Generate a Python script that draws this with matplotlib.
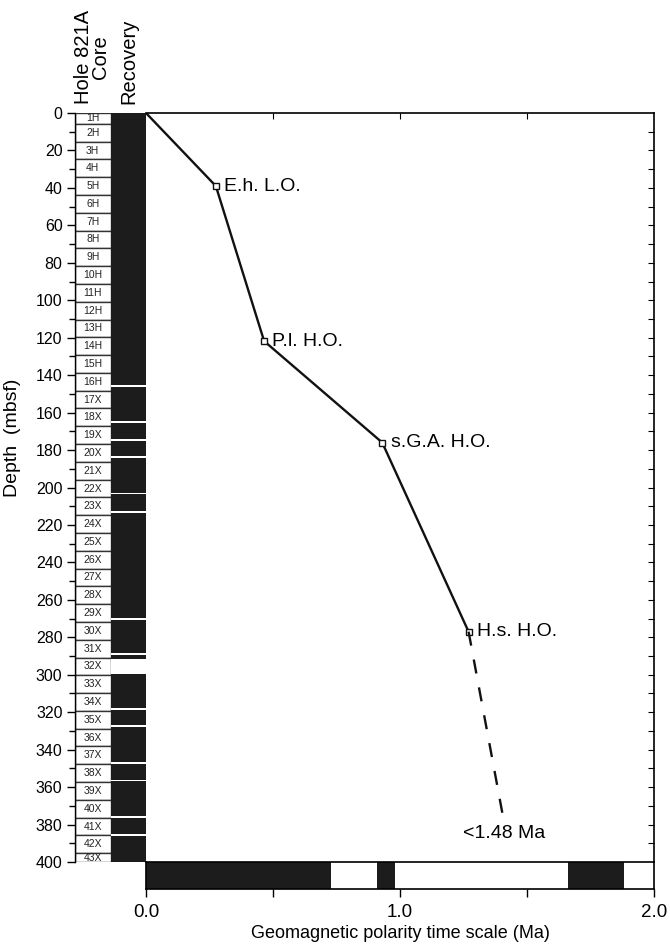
import matplotlib
matplotlib.use("Agg")
import matplotlib.pyplot as plt
from matplotlib.patches import Rectangle

plt.rcParams['font.family'] = ['Liberation Sans', 'DejaVu Sans']

# core tops (mbsf), Hole 821A
core_top = [0.0, 5.8, 15.3, 24.8, 34.3, 43.8, 53.3, 62.8, 72.3, 81.8, 91.3,
            100.8, 110.3, 119.8, 129.3, 138.8, 148.3, 157.8, 167.3, 176.8,
            186.3, 195.8, 205.3, 214.8, 224.3, 233.8, 243.3, 252.8, 262.3,
            271.8, 281.3, 290.8, 300.3, 309.8, 319.3, 328.8, 338.3, 347.8,
            357.3, 366.8, 376.3, 385.8, 395.3]
core_label = [f'{i}H' for i in range(1, 17)] + [f'{i}X' for i in range(17, 44)]

# gaps in recovery (top, bottom) mbsf
gaps = [(145.0, 146.3), (164.6, 165.5), (174.2, 175.0), (183.2, 184.4),
        (202.7, 203.5), (212.6, 213.4), (269.6, 270.8), (288.6, 289.6),
        (291.6, 299.4), (318.0, 318.6), (326.6, 327.8), (346.6, 347.4),
        (356.2, 357.0), (375.2, 376.4), (385.2, 385.9)]

# biostratigraphic datums
datum_age = [0.0, 0.275, 0.465, 0.93, 1.27]
datum_depth = [0.0, 39.0, 121.8, 176.0, 277.0]
datum_name = ['', 'E.h. L.O.', 'P.l. H.O.', 's.G.A. H.O.', 'H.s. H.O.']
dash_age = [1.27, 1.41]
dash_depth = [277.0, 379.0]

# normal polarity chrons (Ma)
normal = [(0.0, 0.73), (0.91, 0.98), (1.66, 1.88)]

W, H = 670, 949
fig = plt.figure(figsize=(W / 100, H / 100), dpi=100)

def box(x0, x1, y0, y1):
    return [x0 / W, 1 - y1 / H, (x1 - x0) / W, (y1 - y0) / H]

ax_core = fig.add_axes(box(75, 146, 113, 862))
ax = fig.add_axes(box(146, 654, 113, 862))
ax_pol = fig.add_axes(box(146, 654, 862, 889))

# core column + recovery
ax_core.set_xlim(0, 2)
ax_core.set_ylim(400, 0)
bottoms = core_top[1:] + [400.0]
for top, bot, lab in zip(core_top, bottoms, core_label):
    ax_core.add_patch(Rectangle((0, top), 1, bot - top, facecolor='white',
                                edgecolor='#333333', linewidth=1.0))
    ax_core.text(0.5, (top + min(bot, 400)) / 2, lab, ha='center', va='center',
                 fontsize=7.5, color='#222222')
ax_core.add_patch(Rectangle((1, 0), 1, 400, facecolor='#1c1c1c', edgecolor='none'))
for g0, g1 in gaps:
    ax_core.add_patch(Rectangle((1, g0), 1, g1 - g0, facecolor='white',
                                edgecolor='none'))
for s in ['top', 'right', 'bottom']:
    ax_core.spines[s].set_visible(False)
ax_core.spines['left'].set_linewidth(1.0)
ax_core.set_xticks([])
ax_core.set_yticks(range(0, 401, 20))
ax_core.set_yticks(range(10, 400, 20), minor=True)
ax_core.tick_params(axis='y', which='major', length=6, width=1, labelsize=11.5, pad=3)
ax_core.tick_params(axis='y', which='minor', length=4, width=1)
ax_core.set_ylabel('Depth  (mbsf)', fontsize=14)
ax_core.yaxis.set_label_coords(-0.76, 0.567)

ax_core.text(0.24, 1.012, 'Hole 821A\nCore', transform=ax_core.transAxes,
             rotation=90, ha='center', va='bottom', fontsize=14.5,
             linespacing=0.85, multialignment='center')
ax_core.text(0.76, 1.012, 'Recovery', transform=ax_core.transAxes,
             rotation=90, ha='center', va='bottom', fontsize=14.5)

# age-depth plot
ax.set_xlim(0, 2)
ax.set_ylim(400, 0)
ax.plot(datum_age, datum_depth, color='#111111', linewidth=1.7)
ax.plot(datum_age[1:], datum_depth[1:], linestyle='none', marker='s',
        markersize=4.5, markerfacecolor='white', markeredgecolor='#111111',
        markeredgewidth=1.0)
ax.plot(dash_age, dash_depth, color='#111111', linewidth=1.7,
        linestyle=(0, (6, 6)))
for a, d, n in zip(datum_age[1:], datum_depth[1:], datum_name[1:]):
    ax.annotate(n, (a, d), xytext=(6, 0), textcoords='offset points',
                ha='left', va='center', fontsize=14)
ax.annotate('<1.48 Ma', (dash_age[1], dash_depth[1]), xytext=(0, -2),
            textcoords='offset points', ha='center', va='top', fontsize=14)
ax.set_xticks([0.5, 1.0, 1.5])
ax.set_yticks(range(10, 400, 10))
ax.tick_params(axis='x', direction='in', top=True, bottom=False,
               labelbottom=False, length=4)
ax.tick_params(axis='y', direction='in', right=True, left=False,
               labelleft=False, length=4)
ax.spines['left'].set_visible(False)
ax.spines['bottom'].set_visible(False)
for s in ['top', 'right']:
    ax.spines[s].set_linewidth(1.2)
ax.set_facecolor('none')

# polarity scale
ax_pol.set_xlim(0, 2)
ax_pol.set_ylim(0, 1)
for a0, a1 in normal:
    ax_pol.axvspan(a0, a1, color='#1c1c1c', linewidth=0)
for s in ax_pol.spines.values():
    s.set_linewidth(1.2)
ax_pol.set_yticks([])
ax_pol.set_xticks([0.0, 0.5, 1.0, 1.5, 2.0])
ax_pol.set_xticklabels(['0.0', '', '1.0', '', '2.0'])
ax_pol.tick_params(axis='x', length=6, width=1, labelsize=13.5, pad=5)
ax_pol.set_xlabel('Geomagnetic polarity time scale (Ma)', fontsize=13, labelpad=3)

fig.savefig('out.png', dpi=100)
